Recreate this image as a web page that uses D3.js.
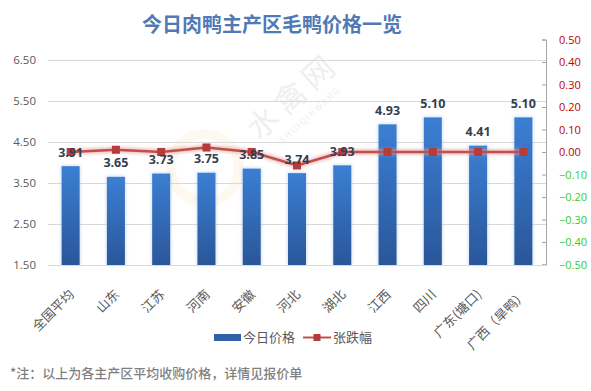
<!DOCTYPE html>
<html>
<head>
<meta charset="utf-8">
<script src="https://cdn.jsdelivr.net/npm/d3@7/dist/d3.min.js"></script>
<style>
  html, body { margin: 0; padding: 0; background: #fff; }
  svg { display: block; font-family: "Noto Sans CJK SC", "Noto Sans", sans-serif; }
</style>
</head>
<body>
<svg id="chart" width="591" height="391"></svg>
<script>
const categories = ['全国平均','山东','江苏','河南','安徽','河北','湖北','江西','四川','广东(塘口)','广西（旱鸭）'];
const prices = [3.91, 3.65, 3.73, 3.75, 3.85, 3.74, 3.93, 4.93, 5.10, 4.41, 5.10];
const changes = [0.00, 0.01, 0.00, 0.02, 0.00, -0.06, 0.00, 0.00, 0.00, 0.00, 0.00];
const leftTicks = [1.5, 2.5, 3.5, 4.5, 5.5, 6.5];
const rightTicks = [-0.5, -0.4, -0.3, -0.2, -0.1, 0, 0.1, 0.2, 0.3, 0.4, 0.5];
const seriesNames = ['今日价格', '张跌幅'];
const titleText = '今日肉鸭主产区毛鸭价格一览';
const noteText = '*注：以上为各主产区平均收购价格，详情见报价单';

const svg = d3.select('#chart');
const plot = { left: 48, right: 546, top: 39.5, bottom: 265 };

const defs = svg.append('defs');
const grad = defs.append('linearGradient').attr('id', 'barGrad')
  .attr('x1', 0).attr('y1', 0).attr('x2', 0).attr('y2', 1);
grad.append('stop').attr('offset', '0%').attr('stop-color', '#3B7FD3');
grad.append('stop').attr('offset', '100%').attr('stop-color', '#2A5699');
const glow = defs.append('filter').attr('id', 'glow')
  .attr('x', '-50%').attr('y', '-50%').attr('width', '200%').attr('height', '200%');
glow.append('feGaussianBlur').attr('stdDeviation', 1.6);

const x = d3.scaleBand().domain(categories).range([plot.left, plot.right]).padding(0);
const yL = d3.scaleLinear().domain([1.5, 7.0]).range([plot.bottom, plot.top]);
const yR = d3.scaleLinear().domain([-0.5, 0.5]).range([plot.bottom - 0.5, plot.top]);
const barW = 18;
const cx = d => x(d) + x.bandwidth() / 2;

// Watermark
const wm = svg.append('g').attr('transform', 'translate(300,104) rotate(-42)');
wm.append('text').attr('text-anchor', 'middle').attr('font-size', 31)
  .attr('fill', '#efefef').attr('letter-spacing', 6).text('水禽网');
wm.append('text').attr('text-anchor', 'middle').attr('y', 18).attr('font-size', 9)
  .attr('fill', '#f0f0f0').attr('letter-spacing', 1.5).text('SHUIQINWANG');
svg.append('circle').attr('cx', 205).attr('cy', 168).attr('r', 34)
  .attr('fill', 'none').attr('stroke', '#fdf1da').attr('stroke-width', 10).attr('opacity', 0.45);

// Title
svg.append('text').attr('x', 272).attr('y', 32).attr('text-anchor', 'middle')
  .attr('font-size', 20).attr('font-weight', 'bold').attr('fill', '#5079B5')
  .text(titleText);

// Left axis + gridlines
const axL = d3.axisLeft(yL).tickValues(leftTicks).tickFormat(d3.format('.2f'))
  .tickSize(-(plot.right - plot.left)).tickPadding(12);
const gL = svg.append('g').attr('transform', `translate(${plot.left},0)`).call(axL);
gL.select('.domain').remove();
gL.selectAll('.tick line').attr('stroke', '#d9d9d9').attr('stroke-width', 1);
gL.selectAll('.tick text').attr('fill', '#595959').attr('font-size', 11.5)
  .attr('font-family', '"Open Sans", "Noto Sans", sans-serif');

// Right axis
const axR = d3.axisRight(yR).tickValues(rightTicks).tickFormat(d3.format('.2f'))
  .tickSizeInner(-4).tickSizeOuter(-4).tickPadding(13);
const gR = svg.append('g').attr('transform', `translate(${plot.right},0)`).call(axR);
gR.select('.domain').attr('stroke', '#a6a6a6');
gR.selectAll('.tick line').attr('stroke', '#a6a6a6');
gR.selectAll('.tick text').attr('font-size', 11)
  .attr('font-family', '"Open Sans", "Noto Sans", sans-serif')
  .attr('fill', d => d < -1e-9 ? '#33cc33' : '#c00000');

// Bars
svg.append('g').selectAll('rect.glowbar').data(categories).join('rect')
  .attr('x', d => cx(d) - barW / 2 - 1).attr('width', barW + 2)
  .attr('y', (d, i) => yL(prices[i]) - 1).attr('height', (d, i) => plot.bottom - yL(prices[i]) + 1)
  .attr('fill', '#9dbde8').attr('opacity', 0.45).attr('filter', 'url(#glow)');
svg.append('g').selectAll('rect').data(categories).join('rect')
  .attr('x', d => cx(d) - barW / 2).attr('width', barW)
  .attr('y', (d, i) => yL(prices[i])).attr('height', (d, i) => plot.bottom - yL(prices[i]))
  .attr('fill', 'url(#barGrad)');

// Line with glow
const line = d3.line().x(d => cx(d)).y((d, i) => yR(changes[i]));
svg.append('path').datum(categories).attr('d', line).attr('fill', 'none')
  .attr('stroke', '#e8a0a0').attr('stroke-width', 6).attr('opacity', 0.6).attr('filter', 'url(#glow)');
svg.append('path').datum(categories).attr('d', line).attr('fill', 'none')
  .attr('stroke', '#c0504d').attr('stroke-width', 2.5);
svg.append('g').selectAll('rect').data(categories).join('rect')
  .attr('x', d => cx(d) - 4).attr('y', (d, i) => yR(changes[i]) - 4)
  .attr('width', 8).attr('height', 8).attr('fill', '#b63b3b');

// Data labels
svg.append('g').selectAll('text').data(categories).join('text')
  .attr('x', d => cx(d)).attr('y', (d, i) => yL(prices[i]) - 14).attr('dy', '0.35em')
  .attr('text-anchor', 'middle').attr('font-size', 12.5).attr('font-weight', 'bold')
  .attr('font-family', '"Open Sans", "Noto Sans", sans-serif')
  .attr('fill', '#333f50').text((d, i) => d3.format('.2f')(prices[i]));

// Bottom base line
svg.append('line').attr('x1', plot.left).attr('x2', plot.right)
  .attr('y1', plot.bottom + 0.5).attr('y2', plot.bottom + 0.5).attr('stroke', '#d9d9d9');

// X labels
svg.append('g').selectAll('text').data(categories).join('text')
  .attr('transform', d => `translate(${cx(d) + 1},${plot.bottom + 27}) rotate(-45)`)
  .attr('text-anchor', 'end').attr('dy', '0.35em')
  .attr('font-size', 13).attr('fill', '#595959').text(d => d);

// Legend
const lg = svg.append('g');
lg.append('rect').attr('x', 214).attr('y', 334).attr('width', 27).attr('height', 7).attr('fill', '#2F62AA');
lg.append('text').attr('x', 243).attr('y', 337.5).attr('dy', '0.35em').attr('font-size', 13)
  .attr('fill', '#595959').text(seriesNames[0]);
lg.append('line').attr('x1', 303).attr('x2', 331).attr('y1', 337.5).attr('y2', 337.5)
  .attr('stroke', '#c0504d').attr('stroke-width', 2);
lg.append('rect').attr('x', 313.5).attr('y', 334).attr('width', 7).attr('height', 7).attr('fill', '#b63b3b');
lg.append('text').attr('x', 333).attr('y', 337.5).attr('dy', '0.35em').attr('font-size', 13)
  .attr('fill', '#595959').text(seriesNames[1]);

// Footnote
svg.append('text').attr('x', 10).attr('y', 373).attr('dy', '0.35em').attr('font-size', 13)
  .attr('font-weight', 500).attr('fill', '#7f7f7f').text(noteText);
</script>
</body>
</html>
